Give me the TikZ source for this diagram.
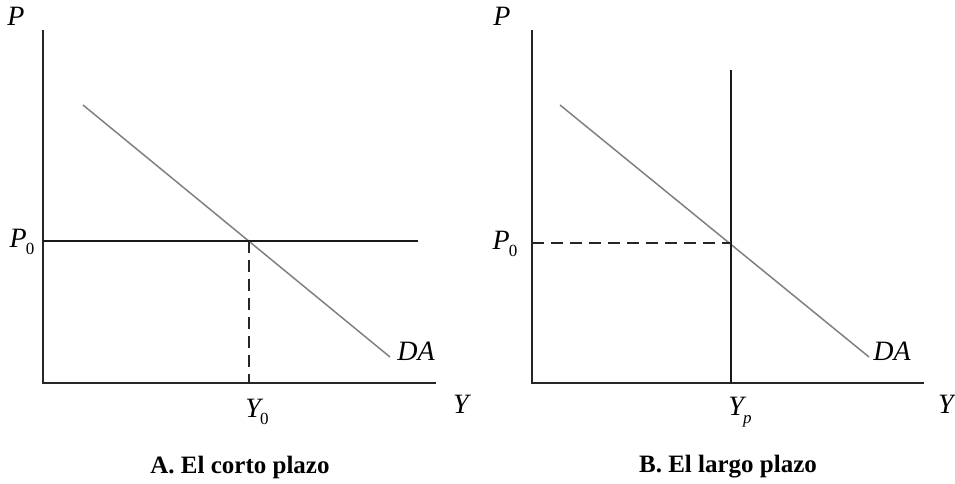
\documentclass[tikz,border=0pt]{standalone}
\usepackage{fontspec}
\setmainfont{Liberation Serif}
\newcommand{\lowsub}[1]{\kern-1pt\raisebox{-0.6ex}{\fontsize{17}{17}\selectfont #1}}
\begin{document}
\begin{tikzpicture}[x=1pt,y=-1pt,
  axis/.style={line width=1.5pt,black!85},
  curve/.style={line width=1.5pt,black!50},
  level/.style={line width=1.7pt,black!90},
  guide/.style={line width=1.3pt,black!85,dash pattern=on 12pt off 7pt},
  lbl/.style={font=\fontsize{28}{28}\selectfont\itshape,inner sep=0pt},
  ttl/.style={font=\fontsize{25}{25}\selectfont\bfseries,inner sep=0pt}]
\useasboundingbox (0,0) rectangle (955,483);
% Panel A
\coordinate (aO) at (43,383);
\coordinate (aTop) at (43,30);
\coordinate (aEnd) at (436,383);
\coordinate (aD1) at (83,105);
\coordinate (aD2) at (390,357);
\coordinate (aPL) at (43,241);
\coordinate (aPR) at (418,241);
\coordinate (aE) at (249,241);
\coordinate (aEb) at (249,383);
\draw[axis] (aTop) -- (aO) -- (aEnd);
\draw[curve] (aD1) -- (aD2);
\draw[level] (aPL) -- (aPR);
\draw[guide] (aE) -- (aEb);
\node[lbl] (aP) at (16,16) {P};
\node[lbl] (aP0) at (22,242) {P\lowsub{\upshape 0}};
\node[lbl] (aY0) at (257,412) {Y\lowsub{\upshape 0}};
\node[lbl] (aY) at (461,404) {Y};
\node[lbl] (aDA) at (416,351) {DA};
\node[ttl] (aT) at (240,467) {A. El corto plazo};
% Panel B
\coordinate (bO) at (532,383);
\coordinate (bTop) at (532,30);
\coordinate (bEnd) at (924,383);
\coordinate (bD1) at (560,105);
\coordinate (bD2) at (869,357);
\coordinate (bPL) at (532,243);
\coordinate (bE) at (731,243);
\coordinate (bVt) at (731,70);
\coordinate (bVb) at (731,383);
\draw[axis] (bTop) -- (bO) -- (bEnd);
\draw[curve] (bD1) -- (bD2);
\draw[level] (bVt) -- (bVb);
\draw[guide] (bPL) -- (bE);
\node[lbl] (bP) at (502,16) {P};
\node[lbl] (bP0) at (505,244) {P\lowsub{\upshape 0}};
\node[lbl] (bYp) at (740,412) {Y\lowsub{p}};
\node[lbl] (bY) at (946,404) {Y};
\node[lbl] (bDA) at (892,351) {DA};
\node[ttl] (bT) at (728,467) {B. El largo plazo};
\end{tikzpicture}
\end{document}
